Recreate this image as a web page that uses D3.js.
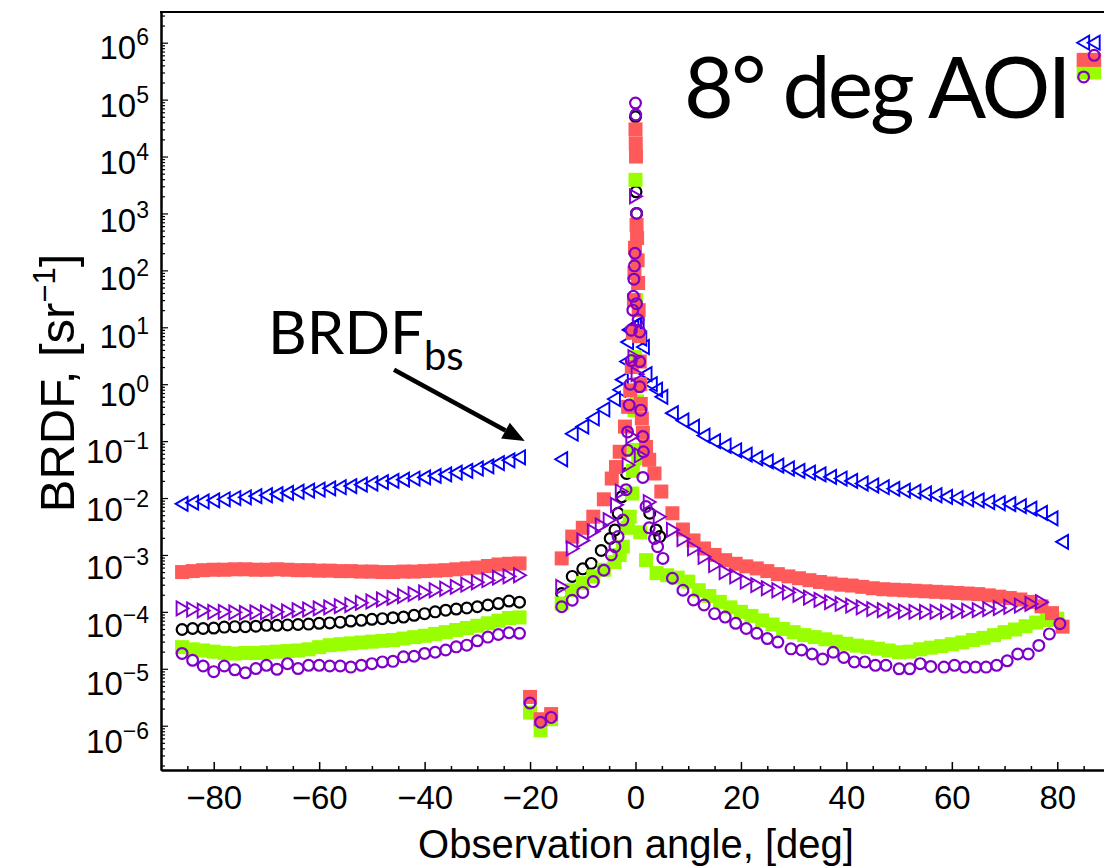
<!DOCTYPE html>
<html>
<head>
<meta charset="utf-8">
<script src="https://cdn.jsdelivr.net/npm/d3@7"></script>
<style>
  body { margin: 0; background: #fff; }
  svg { display: block; }
</style>
</head>
<body>
<svg id="chart" width="1104" height="867"></svg>
<script>
'use strict';

// [observation angle (deg), BRDF (1/sr)]
const blueTri = [
    [-86, 7.9e-3], [-84, 8.3e-3], [-82, 8.7e-3], [-80, 9.1e-3], [-78, 9.5e-3], [-76, 1.0e-2], [-74, 1.03e-2],
    [-72, 1.08e-2], [-70, 1.12e-2], [-68, 1.17e-2], [-66, 1.23e-2], [-64, 1.29e-2], [-62, 1.35e-2], [-60, 1.41e-2],
    [-58, 1.48e-2], [-56, 1.55e-2], [-54, 1.62e-2], [-52, 1.72e-2], [-50, 1.8e-2], [-48, 1.9e-2], [-46, 2.0e-2],
    [-44, 2.1e-2], [-42, 2.2e-2], [-40, 2.3e-2], [-38, 2.45e-2], [-36, 2.6e-2], [-34, 2.8e-2], [-32, 3.0e-2],
    [-30, 3.3e-2], [-28, 3.6e-2], [-26, 4.1e-2], [-24, 4.6e-2], [-22, 5.2e-2],
    [-14, 4.8e-2], [-12, 0.135], [-10, 0.18], [-8, 0.25], [-6, 0.36], [-4, 0.55], [-3, 0.8], [-2.5, 1.2],
    [-1.7, 2.5], [-1.5, 5.5], [-1.2, 9], [-0.5, 10], [0, 11], [0.5, 11.7], [1, 6.3], [1.5, 4.5], [2, 1.5],
    [3, 1.0], [4, 0.8], [5, 0.6], [7, 0.31], [9, 0.23], [11, 0.18], [13, 0.125], [15, 0.1], [17, 0.083],
    [19, 0.069], [21, 0.058], [23, 0.05], [25, 0.044], [27, 0.037], [29, 0.033], [31, 0.030], [33, 0.028],
    [35, 0.026], [37, 0.0235], [39, 0.022], [41, 0.02], [43, 0.018], [45, 0.0166], [47, 0.0155], [49, 0.0145],
    [51, 0.0135], [53, 0.0129], [55, 0.012], [57, 0.0112], [59, 0.0105], [61, 0.01], [63, 9.5e-3], [65, 9.1e-3],
    [67, 8.5e-3], [69, 8.1e-3], [71, 7.8e-3], [73, 7.2e-3], [75, 6.5e-3], [77, 5.5e-3], [79, 4.4e-3], [81, 1.7e-3],
    [85, 1.0e6], [87, 1.0e6]
];

const blackCirc = [
    [-86, 4.9e-5], [-84, 5.1e-5], [-82, 5.1e-5], [-80, 5.2e-5], [-78, 5.4e-5], [-76, 5.5e-5], [-74, 5.5e-5],
    [-72, 5.6e-5], [-70, 5.8e-5], [-68, 5.8e-5], [-66, 5.9e-5], [-64, 6.0e-5], [-62, 6.1e-5], [-60, 6.3e-5],
    [-58, 6.4e-5], [-56, 6.6e-5], [-54, 6.9e-5], [-52, 7.1e-5], [-50, 7.4e-5], [-48, 7.6e-5], [-46, 7.9e-5],
    [-44, 8.1e-5], [-42, 8.7e-5], [-40, 9.3e-5], [-38, 1.0e-4], [-36, 1.07e-4], [-34, 1.12e-4], [-32, 1.17e-4],
    [-30, 1.23e-4], [-28, 1.32e-4], [-26, 1.4e-4], [-24, 1.55e-4], [-22, 1.48e-4],
    [-20, 2.4e-6], [-18, 1.1e-6], [-16, 1.4e-6],
    [-14, 2.1e-4], [-12, 4.2e-4], [-10, 5.7e-4], [-8.4, 7.1e-4], [-6.5, 1.2e-3], [-4.8, 1.95e-3], [-3.9, 2.75e-3],
    [-3.3, 5.4e-3], [-2.6, 1.05e-2], [-1.7, 2.7e-2], [0, 5.0e4], [0.1, 2.4e3], [0.2, 1.0e3],
    [2.7, 5.4e-3], [3.9, 2.75e-3], [4.6, 2.1e-3]
];

const greenSq = [
    [-86, 2.4e-5], [-84, 2.2e-5], [-82, 2.1e-5], [-80, 2.0e-5], [-78, 1.9e-5], [-76, 1.85e-5], [-74, 1.9e-5],
    [-72, 1.9e-5], [-70, 1.95e-5], [-68, 2.0e-5], [-66, 2.05e-5], [-64, 2.1e-5], [-62, 2.2e-5], [-60, 2.4e-5],
    [-58, 2.6e-5], [-56, 2.7e-5], [-54, 2.8e-5], [-52, 2.9e-5], [-50, 3.0e-5], [-48, 3.1e-5], [-46, 3.2e-5],
    [-44, 3.4e-5], [-42, 3.6e-5], [-40, 3.8e-5], [-38, 4.1e-5], [-36, 4.4e-5], [-34, 4.8e-5], [-32, 5.2e-5],
    [-30, 5.7e-5], [-28, 6.3e-5], [-26, 7.0e-5], [-24, 7.8e-5], [-22, 8.0e-5],
    [-20, 1.7e-6], [-18, 8.3e-7], [-16, 1.3e-6],
    [-14, 1.4e-4], [-12, 2.4e-4], [-10, 3.2e-4], [-8, 4.2e-4], [-6, 5.5e-4], [-4, 7.5e-4], [-3, 1.0e-3],
    [-2.4, 1.4e-3], [-1.5, 3.0e-3], [-1.1, 4.7e-3], [-0.6, 1.2e-2], [-0.5, 3.0e-2], [-0.4, 0.07], [-0.2, 0.35],
    [-0.1, 3], [0, 3.9e3], [0.1, 30], [0.3, 0.5], [0.5, 0.05], [0.9, 2.5e-3], [2, 8.1e-4], [4, 4.8e-4],
    [6, 4.4e-4], [8, 4.0e-4], [10, 3.4e-4], [12, 2.4e-4], [14, 1.9e-4], [16, 1.5e-4], [18, 1.2e-4], [20, 1.0e-4],
    [22, 8.5e-5], [24, 7.1e-5], [26, 6.0e-5], [28, 5.0e-5], [30, 4.4e-5], [32, 3.9e-5], [34, 3.6e-5], [36, 3.3e-5],
    [38, 3.0e-5], [40, 2.75e-5], [42, 2.55e-5], [44, 2.4e-5], [46, 2.25e-5], [48, 2.1e-5], [50, 1.95e-5],
    [52, 2.0e-5], [54, 2.2e-5], [56, 2.35e-5], [58, 2.5e-5], [60, 2.7e-5], [62, 2.9e-5], [64, 3.2e-5],
    [66, 3.5e-5], [68, 3.9e-5], [70, 4.4e-5], [72, 4.9e-5], [74, 5.6e-5], [76, 6.5e-5], [78, 7.2e-5], [80, 7.6e-5],
    [85, 3.0e5], [87, 3.0e5]
];

const redSq = [
    [-86, 5.0e-4], [-84, 5.2e-4], [-82, 5.4e-4], [-80, 5.5e-4], [-78, 5.5e-4], [-76, 5.6e-4], [-74, 5.6e-4],
    [-72, 5.5e-4], [-70, 5.5e-4], [-68, 5.6e-4], [-66, 5.5e-4], [-64, 5.4e-4], [-62, 5.4e-4], [-60, 5.3e-4],
    [-58, 5.3e-4], [-56, 5.2e-4], [-54, 5.2e-4], [-52, 5.1e-4], [-50, 5.1e-4], [-48, 5.0e-4], [-46, 5.0e-4],
    [-44, 5.1e-4], [-42, 5.1e-4], [-40, 5.2e-4], [-38, 5.3e-4], [-36, 5.4e-4], [-34, 5.6e-4], [-32, 5.8e-4],
    [-30, 6.0e-4], [-28, 6.4e-4], [-26, 6.8e-4], [-24, 7.0e-4], [-22, 7.1e-4],
    [-20, 3.2e-6], [-18, 1.3e-6], [-16, 1.6e-6],
    [-14, 8.7e-4], [-12, 2.1e-3], [-10, 3.0e-3], [-8, 4.7e-3], [-6, 9.5e-3], [-4.5, 2.2e-2], [-3.7, 3.5e-2],
    [-3, 6.5e-2], [-2, 0.18], [-1.4, 0.4], [-1, 0.78], [-0.7, 2.0], [-0.5, 8], [-0.3, 30], [-0.2, 90], [-0.1, 250],
    [0, 3.0e4], [0.05, 1.7e4], [0.1, 1.0e4], [0.2, 630], [0.3, 370], [0.4, 150], [0.5, 60], [0.6, 20], [0.7, 7],
    [0.8, 2.5], [0.9, 1.0], [1, 0.45], [1.2, 0.25], [1.4, 0.14], [2, 7.9e-2], [2.6, 4.7e-2], [3.6, 2.7e-2],
    [4.9, 1.3e-2], [7, 5.4e-3], [9, 2.8e-3], [11, 1.8e-3], [13, 1.3e-3], [15, 1.0e-3], [17, 8.1e-4], [19, 7.0e-4],
    [21, 6.3e-4], [23, 5.8e-4], [25, 5.2e-4], [27, 4.6e-4], [29, 4.2e-4], [31, 3.9e-4], [33, 3.6e-4], [35, 3.35e-4],
    [37, 3.15e-4], [39, 3.0e-4], [41, 2.9e-4], [43, 2.75e-4], [45, 2.6e-4], [47, 2.5e-4], [49, 2.45e-4],
    [51, 2.4e-4], [53, 2.35e-4], [55, 2.3e-4], [57, 2.25e-4], [59, 2.2e-4], [61, 2.15e-4], [63, 2.1e-4],
    [65, 2.05e-4], [67, 1.95e-4], [69, 1.85e-4], [71, 1.75e-4], [73, 1.65e-4], [75, 1.5e-4], [77, 1.25e-4],
    [79, 9.5e-5], [81, 5.5e-5],
    [85, 5.0e5], [87, 5.0e5]
];

const purpleTri = [
    [-86, 1.15e-4], [-84, 1.1e-4], [-82, 1.05e-4], [-80, 1.0e-4], [-78, 1.0e-4], [-76, 9.8e-5], [-74, 9.6e-5],
    [-72, 9.8e-5], [-70, 9.8e-5], [-68, 1.0e-4], [-66, 1.02e-4], [-64, 1.07e-4], [-62, 1.1e-4], [-60, 1.15e-4],
    [-58, 1.2e-4], [-56, 1.26e-4], [-54, 1.32e-4], [-52, 1.44e-4], [-50, 1.52e-4], [-48, 1.65e-4], [-46, 1.76e-4],
    [-44, 1.9e-4], [-42, 2.05e-4], [-40, 2.2e-4], [-38, 2.4e-4], [-36, 2.55e-4], [-34, 2.75e-4], [-32, 3.0e-4],
    [-30, 3.3e-4], [-28, 3.6e-4], [-26, 4.0e-4], [-24, 4.2e-4], [-22, 4.4e-4],
    [-14, 2.75e-4], [-12, 1.3e-3], [-10, 1.8e-3], [-8, 2.6e-3], [-6.5, 3.3e-3], [-5, 4.1e-3], [-3.6, 7.6e-3],
    [-2.7, 1.3e-2], [-1.4, 3.8e-2], [-0.7, 0.12], [-0.3, 3], [0, 2.0e3], [0.3, 1.5], [0.9, 5.6e-2],
    [2.6, 8.5e-3], [4.5, 4.7e-3], [7, 2.75e-3], [9, 1.9e-3], [11, 1.3e-3], [13, 9.3e-4], [15, 6.6e-4],
    [17, 5.0e-4], [19, 4.2e-4], [21, 3.4e-4], [23, 2.95e-4], [25, 2.6e-4], [27, 2.4e-4], [29, 2.2e-4],
    [31, 2.0e-4], [33, 1.78e-4], [35, 1.62e-4], [37, 1.48e-4], [39, 1.38e-4], [41, 1.29e-4], [43, 1.2e-4],
    [45, 1.12e-4], [47, 1.07e-4], [49, 1.05e-4], [51, 1.02e-4], [53, 1.0e-4], [55, 1.0e-4], [57, 1.0e-4],
    [59, 1.0e-4], [61, 1.02e-4], [63, 1.05e-4], [65, 1.07e-4], [67, 1.12e-4], [69, 1.17e-4], [71, 1.23e-4],
    [73, 1.29e-4], [75, 1.38e-4], [77, 1.48e-4]
];

const purpleCirc = [
    [-86, 1.86e-5], [-84, 1.41e-5], [-82, 1.12e-5], [-80, 8.9e-6], [-78, 1.12e-5], [-76, 9.6e-6], [-74, 8.5e-6],
    [-72, 1.01e-5], [-70, 1.15e-5], [-68, 9.8e-6], [-66, 1.23e-5], [-64, 1.01e-5], [-62, 1.15e-5], [-60, 1.15e-5],
    [-58, 1.12e-5], [-56, 1.12e-5], [-54, 1.07e-5], [-52, 1.15e-5], [-50, 1.23e-5], [-48, 1.32e-5], [-46, 1.35e-5],
    [-44, 1.62e-5], [-42, 1.66e-5], [-40, 1.86e-5], [-38, 1.95e-5], [-36, 2.14e-5], [-34, 2.43e-5], [-32, 2.6e-5],
    [-30, 3.1e-5], [-28, 3.6e-5], [-26, 4.0e-5], [-24, 4.3e-5], [-22, 4.2e-5],
    [-20, 2.5e-6], [-18, 1.15e-6], [-16, 1.4e-6],
    [-14, 1.23e-4], [-12, 1.6e-4], [-10, 2.2e-4], [-8, 3.4e-4], [-6, 5.4e-4], [-4.6, 1.0e-3], [-3.9, 1.4e-3],
    [-3.3, 2.1e-3], [-2.4, 4.1e-3], [-1.8, 1.4e-2], [-1.5, 6.9e-2], [-1.5, 0.145], [-1.2, 0.43], [-1.0, 1.0],
    [-0.8, 2.6], [-0.8, 8.9], [-0.5, 20], [-0.4, 35], [-0.3, 70], [-0.2, 120], [-0.1, 200], [0, 8.7e4],
    [0.05, 5.4e4], [0.2, 1.0e3], [0.2, 26], [0.5, 13.5], [0.8, 8.3], [0.8, 2.5], [0.8, 0.9], [1.0, 0.35],
    [1.4, 0.12], [1.5, 6.5e-2], [1.4, 2.3e-2], [2.0, 7.1e-3], [2.6, 3.0e-3], [3.6, 1.95e-3], [4.2, 1.4e-3],
    [5.2, 8.7e-4], [7, 3.9e-4], [9, 2.4e-4], [11, 1.62e-4], [13, 1.32e-4], [15, 9.3e-5], [17, 8.1e-5],
    [19, 6.3e-5], [21, 5.1e-5], [23, 4.2e-5], [25, 3.4e-5], [27, 2.95e-5], [29.5, 2.24e-5], [31.5, 2.14e-5],
    [33.5, 1.82e-5], [35.5, 1.48e-5], [37.5, 1.95e-5], [39.5, 1.58e-5], [41.5, 1.32e-5], [43.5, 1.32e-5],
    [45.5, 1.15e-5], [47.5, 1.15e-5], [50, 1.0e-5], [52, 1.0e-5], [54, 1.23e-5], [56, 1.1e-5], [58.5, 1.07e-5],
    [60.5, 1.15e-5], [62.5, 1.07e-5], [64.5, 1.07e-5], [66.5, 1.07e-5], [68.5, 1.15e-5], [70.5, 1.38e-5],
    [72.5, 1.82e-5], [74.5, 1.82e-5], [76.5, 2.57e-5], [78.5, 4.1e-5], [80.5, 6.2e-5],
    [85, 2.5e5], [87, 6.0e5]
];

const yDecades = [-6, -5, -4, -3, -2, -1, 0, 1, 2, 3, 4, 5, 6];
const xTicks = [-80, -60, -40, -20, 0, 20, 40, 60, 80];

const svg = d3.select('#chart');
const FONT = '"Liberation Sans", Arial, sans-serif';
const NARROW = '"Liberation Sans Narrow", "Liberation Sans", Arial, sans-serif';
const CALI = 'Lato, "Open Sans", sans-serif';

// scales
const x = d3.scaleLinear().domain([-90, 90]).range([161, 1110]);
const y = d3.scaleLog().domain([1e-6, 1e6]).range([725.7, 42.7]);
y.domain([y.invert(770), y.invert(12)]).range([770, 12]);

// minor tick positions
const xMinor = d3.range(-85, 90, 5).filter((d) => d % 20 !== 0);
const yMinor = [];
for (let n = -7; n <= 6; n++)
{
    for (let k = 2; k <= 9; k++)
    {
        const v = k * Math.pow(10, n);
        if (v > y.domain()[0] && v < y.domain()[1]) yMinor.push(v);
    }
}

// x axis
const gx = svg.append('g').attr('transform', 'translate(0,770)');
gx.call(d3.axisBottom(x).tickValues(xMinor).tickSize(-4).tickSizeOuter(0).tickFormat(''));
gx.append('g').call(d3.axisBottom(x).tickValues(xTicks).tickSize(-8).tickSizeOuter(0).tickPadding(16)
    .tickFormat((d) => (d < 0 ? '\u2212' + Math.abs(d) : d)));
gx.selectAll('.domain').attr('stroke-width', 2);
gx.selectAll('.tick line').attr('stroke-width', 1.5);
gx.selectAll('text').attr('font-family', NARROW).attr('font-size', 33).attr('fill', '#000');

// y axis
const gy = svg.append('g').attr('transform', 'translate(161,0)');
gy.call(d3.axisLeft(y).tickValues(yMinor).tickSize(-4).tickSizeOuter(0).tickFormat(''));
gy.append('g').call(d3.axisLeft(y).tickValues(yDecades.map((n) => Math.pow(10, n))).tickSize(-7).tickSizeOuter(0).tickFormat(''));
gy.selectAll('.domain').attr('stroke-width', 2);
gy.selectAll('.tick line').attr('stroke-width', 1.2);

// top frame line
svg.append('line')
    .attr('x1', 160).attr('x2', 1104).attr('y1', 12).attr('y2', 12)
    .attr('stroke', '#000').attr('stroke-width', 2);

// y tick labels 10^n (the labels sit a little lower towards the bottom of the axis)
const ylab = svg.append('g').selectAll('text').data(yDecades).enter().append('text')
    .attr('x', 149)
    .attr('y', (d) => y(Math.pow(10, d)) + 16 + (6 - d) * 0.9)
    .attr('text-anchor', 'end')
    .attr('font-family', FONT)
    .attr('font-size', 33);
ylab.append('tspan').text('10');
ylab.append('tspan').attr('dy', -14).attr('font-size', 23)
    .text((d) => (d < 0 ? '\u2212' + Math.abs(d) : d));

// axis titles
svg.append('text')
    .attr('x', 636).attr('y', 858)
    .attr('text-anchor', 'middle')
    .attr('font-family', FONT).attr('font-size', 40)
    .text('Observation angle, [deg]');

const yt = svg.append('text')
    .attr('transform', 'translate(74,383) rotate(-90)')
    .attr('text-anchor', 'middle')
    .attr('font-family', FONT).attr('font-size', 49);
yt.append('tspan').text('BRDF, [sr');
yt.append('tspan').attr('dy', -19).attr('font-size', 31).text('\u22121');
yt.append('tspan').attr('dy', 19).text(']');

// markers
function markerPath(kind)
{
    if (kind === 'triL') return 'M-6.5,0L5.5,-7L5.5,7Z';
    if (kind === 'triR') return 'M6.5,0L-5.5,-7L-5.5,7Z';
    return null;
}

const series = [
    { name: 'blueTri', data: blueTri, kind: 'triL', color: '#0000ff' },
    { name: 'blackCirc', data: blackCirc, kind: 'circle', color: '#000000' },
    { name: 'greenSq', data: greenSq, kind: 'square', color: '#99ff00' },
    { name: 'redSq', data: redSq, kind: 'square', color: '#ff5a5a' },
    { name: 'purpleTri', data: purpleTri, kind: 'triR', color: '#8400d0' },
    { name: 'purpleCirc', data: purpleCirc, kind: 'circle', color: '#8000c8' }
];

const plot = svg.append('g');
for (let s of series)
{
    const g = plot.append('g').attr('class', s.name);
    if (s.kind === 'square')
    {
        g.selectAll('rect').data(s.data).enter().append('rect')
            .attr('x', (d) => x(d[0]) - 7)
            .attr('y', (d) => y(d[1]) - 7)
            .attr('width', 14).attr('height', 14)
            .attr('fill', s.color);
    }
    else if (s.kind === 'circle')
    {
        g.selectAll('circle').data(s.data).enter().append('circle')
            .attr('cx', (d) => x(d[0]))
            .attr('cy', (d) => y(d[1]))
            .attr('r', 5.4)
            .attr('fill', 'none')
            .attr('stroke', s.color).attr('stroke-width', 2.2);
    }
    else
    {
        g.selectAll('path').data(s.data).enter().append('path')
            .attr('transform', (d) => 'translate(' + x(d[0]) + ',' + y(d[1]) + ')')
            .attr('d', markerPath(s.kind))
            .attr('fill', 'none')
            .attr('stroke', s.color).attr('stroke-width', 1.9);
    }
}

// annotation: backscatter arrow
const tail = [x(-45.8), y(1.8)];
const tip = [x(-21), y(0.1)];
const ang = Math.atan2(tip[1] - tail[1], tip[0] - tail[0]);
const headLen = 22, headW = 9;
const base = [tip[0] - headLen * Math.cos(ang), tip[1] - headLen * Math.sin(ang)];
svg.append('line')
    .attr('x1', tail[0]).attr('y1', tail[1]).attr('x2', base[0]).attr('y2', base[1])
    .attr('stroke', '#000').attr('stroke-width', 4.5);
svg.append('path')
    .attr('d', 'M' + tip[0] + ',' + tip[1]
        + 'L' + (base[0] + headW * Math.sin(ang)) + ',' + (base[1] - headW * Math.cos(ang))
        + 'L' + (base[0] - headW * Math.sin(ang)) + ',' + (base[1] + headW * Math.cos(ang)) + 'Z')
    .attr('fill', '#000');

const ann = svg.append('text')
    .attr('x', 268).attr('y', 354)
    .attr('font-family', CALI).attr('font-size', 60);
ann.append('tspan').text('BRDF');
ann.append('tspan').attr('dy', 16).attr('font-size', 40).text('bs');

svg.append('text')
    .attr('x', 684).attr('y', 118)
    .attr('font-family', CALI).attr('font-size', 86)
    .attr('letter-spacing', -3)
    .text('8\u00b0 deg AOI');
</script>
</body>
</html>
